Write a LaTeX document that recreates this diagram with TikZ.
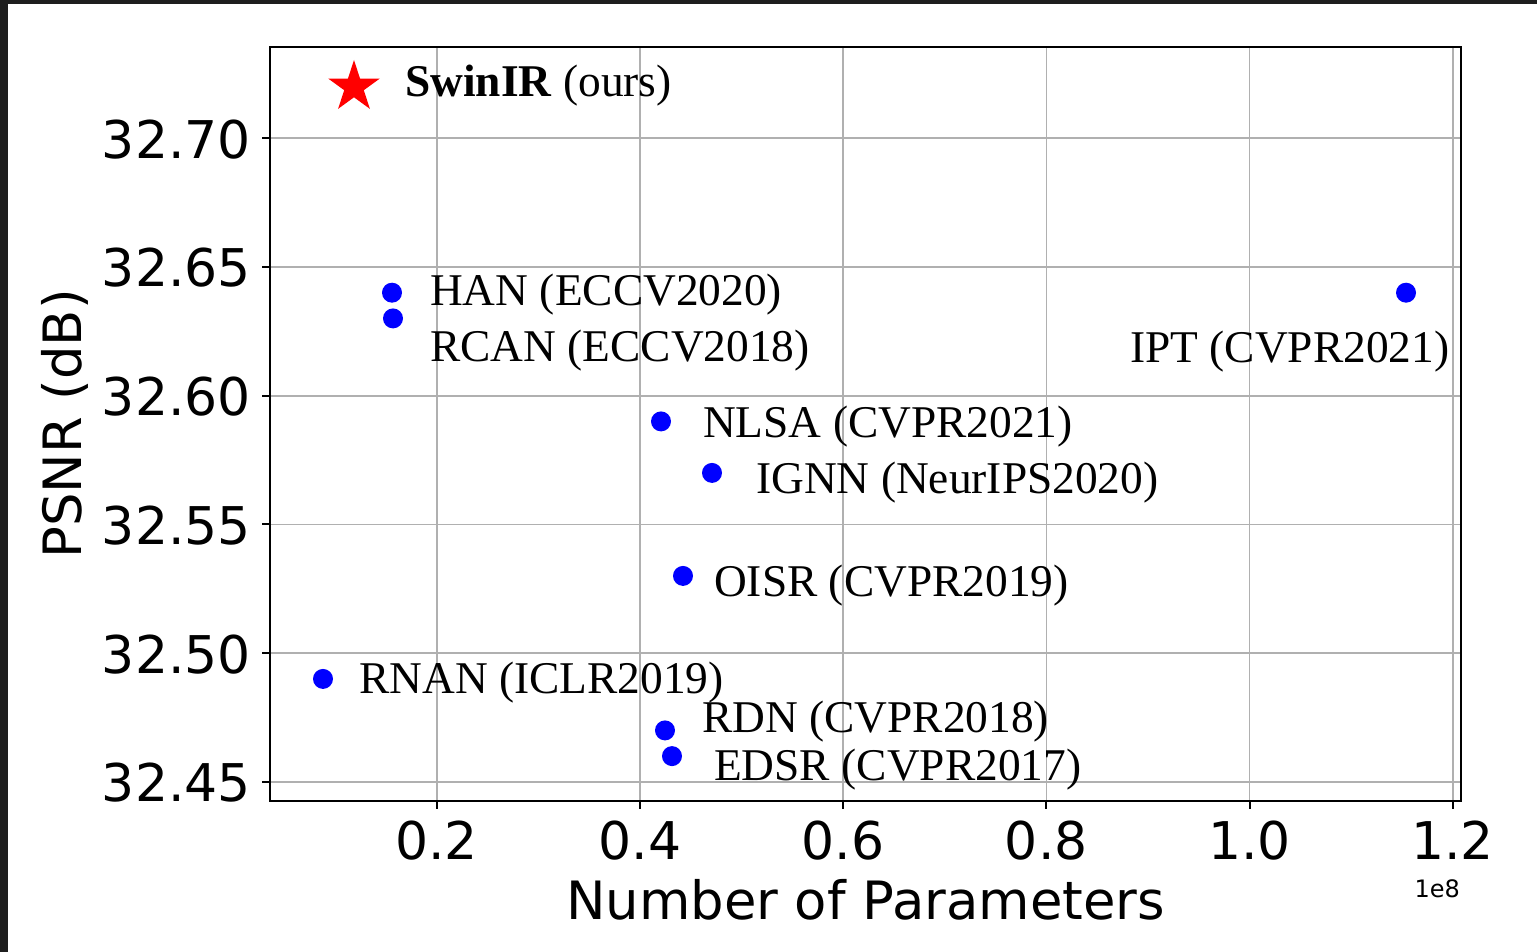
\documentclass[tikz,border=0pt]{standalone}
\usepackage{fontspec}
\setmainfont{Liberation Serif}
\newfontfamily\dvs{DejaVu Sans}
\usetikzlibrary{shapes.geometric}
\definecolor{gridgray}{HTML}{B0B0B0}
\definecolor{darkband}{HTML}{1E1E1E}
\definecolor{dotblue}{HTML}{0000FF}
\begin{document}
\begin{tikzpicture}[x=1pt,y=-1pt,
  gridline/.style={draw=gridgray, line width=1.6pt},
  axframe/.style={draw=black, line width=2.2pt},
  tickmark/.style={draw=black, line width=2pt},
  dot/.style={circle, fill=dotblue, draw=none, inner sep=0pt, minimum size=20pt},
  lab/.style={anchor=base west, inner sep=0pt, font=\fontsize{45.4}{50}\selectfont},
  ticklab/.style={inner sep=0pt, font=\dvs\fontsize{52}{56}\selectfont},
  axlab/.style={inner sep=0pt, font=\dvs\fontsize{52.8}{58}\selectfont},
]
\useasboundingbox (0,0) rectangle (1537,952);
\fill[white] (0,0) rectangle (1537,952);
\fill[darkband] (0,0) rectangle (1537,4);
\fill[darkband] (0,0) rectangle (8,952);

% grid
\foreach \x in {436.7,639.9,843.1,1046.3,1249.5,1452.7}
  \draw[gridline] (\x,47) -- (\x,801);
\foreach \y in {138.3,267.0,395.7,524.4,653.1,781.7}
  \draw[gridline] (270,\y) -- (1461,\y);

% frame
\draw[axframe] (270,47) rectangle (1461,801);

% ticks and tick labels
\foreach \x/\t in {436.7/0.2,639.9/0.4,843.1/0.6,1046.3/0.8,1249.5/1.0,1452.7/1.2}{
  \draw[tickmark] (\x,801) -- (\x,809);
  \node[ticklab, anchor=base] (xt\t) at (\x,859) {\t};
}
\foreach \y/\t in {138.3/32.70,267.0/32.65,395.7/32.60,524.4/32.55,653.1/32.50,781.7/32.45}{
  \draw[tickmark] (262,\y) -- (270,\y);
  \node[ticklab, anchor=base east] (yt\t) at (251,\y+20) {\t};
}
\node[inner sep=0pt, anchor=base east, font=\dvs\fontsize{24}{28}\selectfont] (mult) at (1460,897) {1e8};

% axis labels
\node[axlab, anchor=base] (xlabel) at (865.5,919) {Number of Parameters};
\node[axlab, anchor=base, rotate=90] (ylabel) at (81,424) {PSNR (dB)};

% data points
\node[star, star points=5, star point ratio=2.618, fill=red, draw=none, inner sep=0pt, minimum size=54pt] (swinir) at (354,87) {};
\node[dot] (han) at (392,292.7) {};
\node[dot] (rcan) at (393,318.4) {};
\node[dot] (ipt) at (1406,292.7) {};
\node[dot] (nlsa) at (661,421.4) {};
\node[dot] (ignn) at (712,472.9) {};
\node[dot] (oisr) at (683,575.9) {};
\node[dot] (rnan) at (323,678.9) {};
\node[dot] (rdn) at (665,730.4) {};
\node[dot] (edsr) at (672,756.1) {};

% labels
\node[lab] (lswinir) at (405,97) {\textbf{SwinIR} (ours)};
\node[lab] (lhan) at (430,305) {HAN (ECCV2020)};
\node[lab] (lrcan) at (430,361) {RCAN (ECCV2018)};
\node[lab] (lipt) at (1130,362) {IPT (CVPR2021)};
\node[lab] (lnlsa) at (703,437) {NLSA (CVPR2021)};
\node[lab] (lignn) at (756,493) {IGNN (NeurIPS2020)};
\node[lab] (loisr) at (714,596) {OISR (CVPR2019)};
\node[lab] (lrnan) at (359,693) {RNAN (ICLR2019)};
\node[lab] (lrdn) at (702,732) {RDN (CVPR2018)};
\node[lab] (ledsr) at (714,780) {EDSR (CVPR2017)};
\end{tikzpicture}
\end{document}
